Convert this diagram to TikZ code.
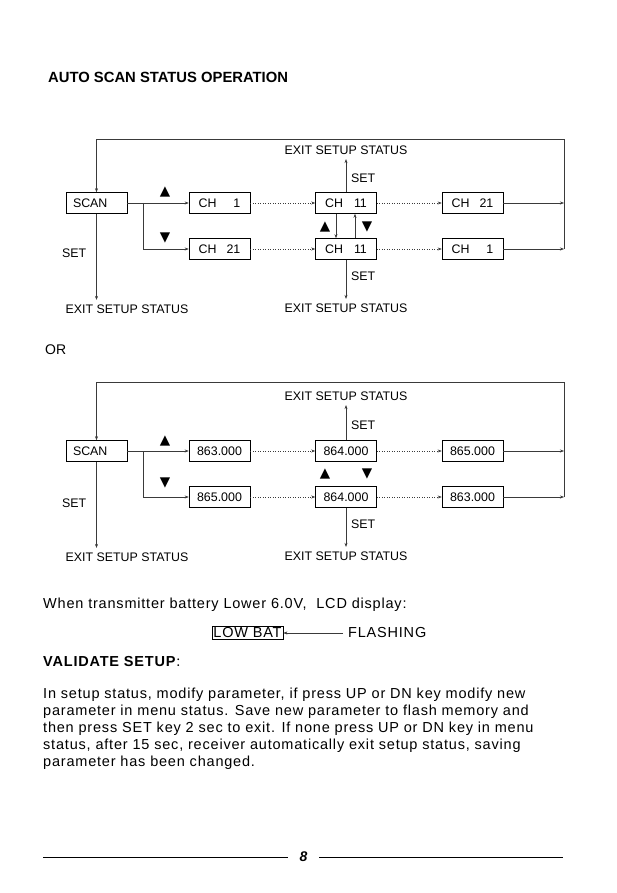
\documentclass[tikz,border=0pt]{standalone}
\usepackage{fontspec}
\setmainfont{Liberation Sans}
\newfontfamily\symfont{DejaVu Sans}
\newfontfamily\cjkfont{Noto Sans CJK SC}
\newfontfamily\spacedfont[LetterSpace=5.5]{Liberation Sans}
\usetikzlibrary{arrows.meta,positioning}
\definecolor{ScanLine}{HTML}{3A3A3A}

\begin{document}
\begin{tikzpicture}[x=1pt,y=-1pt,
    diag/.style={font=\fontsize{12.4}{14}\selectfont,inner sep=1pt},
    exitlbl/.style={diag,inner ysep=4.5pt},
    box/.style={draw,line width=0.6pt,minimum width=61pt,minimum height=21pt,
      inner sep=0pt,font=\fontsize{12.4}{14}\selectfont},
    scanbox/.style={box,text width=47pt,align=left},
    arr/.style={-{Stealth[length=4pt,width=3pt]},line width=0.5pt,draw=ScanLine},
    dotarr/.style={arr,dotted},
    tri/.style={font=\symfont\fontsize{13.5}{13.5}\selectfont,inner sep=0pt},
    body/.style={font=\spacedfont\fontsize{14.5}{17}\selectfont,inner sep=0pt}
  ]
  \useasboundingbox (0,0) rectangle (617,893);
  \node[anchor=west,inner sep=0pt,font=\bfseries\fontsize{14.8}{16}\selectfont] (title) at (48,77) {AUTO SCAN STATUS OPERATION};

  % first chart: channels
  \coordinate (loopA) at (564,139);
  \coordinate (forkA) at (143,203);
  \node[scanbox] (scanA) at (96.5,203) {SCAN};
  \node[box] (upA) at (219.5,203) {CH\hspace{17pt}1};
  \node[box] (dnA) at (219.5,249) {CH\hspace{10pt}21};
  \node[box] (midA) at (346,203) {CH\hspace{11pt}11};
  \node[box] (midAA) at (346,249) {CH\hspace{11pt}11};
  \node[box] (farA) at (472.5,203) {CH\hspace{10pt}21};
  \node[box] (farAA) at (472.5,249) {CH\hspace{17pt}1};
  \node[tri] (upkeyA) at (165,192) {▲};
  \node[tri] (dnkeyA) at (165,238) {▼};
  \node[tri] (upkeyAA) at (325,227) {▲};
  \node[tri] (dnkeyAA) at (367,227) {▼};
  \node[exitlbl] (exitTA) at (346,150) {EXIT SETUP STATUS};
  \node[exitlbl] (exitBA) at (346,308) {EXIT SETUP STATUS};
  \node[exitlbl] (exitLA) at (127,309) {EXIT SETUP STATUS};
  \node[diag,anchor=west] (setTA) at (350,178) {SET};
  \node[diag,anchor=west] (setBA) at (350,276) {SET};
  \node[diag,anchor=west] (setLA) at (61,253) {SET};
  \draw[arr] (scanA) -- (upA);
  \draw[arr] (forkA) |- (dnA);
  \draw[dotarr] (upA) -- (midA);
  \draw[dotarr] (dnA) -- (midAA);
  \draw[dotarr] (midA) -- (farA);
  \draw[dotarr] (midAA) -- (farAA);
  \draw[arr] ([xshift=-10pt]midA.south) -- ([xshift=-10pt]midAA.north);
  \draw[arr] ([xshift=9pt]midAA.north) -- ([xshift=9pt]midA.south);
  \draw[arr] (midA) -- (exitTA);
  \draw[arr] (midAA) -- (exitBA);
  \draw[arr] (scanA) -- (scanA |- exitLA.north);
  \draw[arr] (farA) -- (farA -| loopA);
  \draw[arr] (farAA) -- (farAA -| loopA);
  \draw[arr] (farAA -| loopA) -- (loopA) -| (scanA);

  \node[anchor=west,inner sep=0pt,font=\fontsize{14}{16}\selectfont] (orlbl) at (45,350) {OR};

  % second chart: frequencies
  \coordinate (loopB) at (564,382);
  \coordinate (forkB) at (143,451);
  \node[scanbox] (scanB) at (96.5,451) {SCAN};
  \node[box] (upB) at (219.5,451) {863.000};
  \node[box] (dnB) at (219.5,497) {865.000};
  \node[box] (midB) at (346,451) {864.000};
  \node[box] (midBB) at (346,497) {864.000};
  \node[box] (farB) at (472.5,451) {865.000};
  \node[box] (farBB) at (472.5,497) {863.000};
  \node[tri] (upkeyB) at (165,441) {▲};
  \node[tri] (dnkeyB) at (165,483) {▼};
  \node[tri] (upkeyBB) at (325,474) {▲};
  \node[tri] (dnkeyBB) at (367,474) {▼};
  \node[exitlbl] (exitTB) at (346,396) {EXIT SETUP STATUS};
  \node[exitlbl] (exitBB) at (346,556) {EXIT SETUP STATUS};
  \node[exitlbl] (exitLB) at (127,557) {EXIT SETUP STATUS};
  \node[diag,anchor=west] (setTB) at (350,425) {SET};
  \node[diag,anchor=west] (setBB) at (350,524) {SET};
  \node[diag,anchor=west] (setLB) at (61,503) {SET};
  \draw[arr] (scanB) -- (upB);
  \draw[arr] (forkB) |- (dnB);
  \draw[dotarr] (upB) -- (midB);
  \draw[dotarr] (dnB) -- (midBB);
  \draw[dotarr] (midB) -- (farB);
  \draw[dotarr] (midBB) -- (farBB);
  \draw[arr] (midB) -- (exitTB);
  \draw[arr] (midBB) -- (exitBB);
  \draw[arr] (scanB) -- (scanB |- exitLB.north);
  \draw[arr] (farB) -- (farB -| loopB);
  \draw[arr] (farBB) -- (farBB -| loopB);
  \draw[arr] (farBB -| loopB) -- (loopB) -| (scanB);

  % low battery and validate text
  \node[body,anchor=west] (battery) at (43,605) {When transmitter battery Lower 6.0V,\ \ LCD display:};
  \node[body,draw,line width=0.6pt,inner xsep=1.5pt,inner ysep=1.5pt] (lowbat) at (247.5,633) {LOW BAT};
  \node[body,anchor=west,inner xsep=5pt] (flashing) at (343,633) {FLASHING};
  \draw[arr] (flashing) -- (lowbat);
  \node[body,anchor=west,font=\spacedfont\bfseries\fontsize{14.5}{17}\selectfont] (validate) at (43,662) {VALIDATE SETUP{\mdseries\cjkfont\fontsize{12}{12}\selectfont ：}};
  \node[body,anchor=north west,align=left] (para) at (43,688) {In setup status, modify parameter, if press UP or DN key modify new\\
    parameter in menu status. Save new parameter to flash memory and\\
    then press SET key 2 sec to exit. If none press UP or DN key in menu\\
    status, after 15 sec, receiver automatically exit setup status, saving\\
    parameter has been changed.};

  % footer
  \coordinate (footL) at (43,857);
  \coordinate (footR) at (563,857);
  \node[inner xsep=11.5pt,inner ysep=0pt,font=\bfseries\itshape\fontsize{14}{14}\selectfont] (pagenum) at (303.5,857) {8};
  \draw[line width=0.9pt] (footL) -- (pagenum);
  \draw[line width=0.9pt] (pagenum) -- (footR);
\end{tikzpicture}
\end{document}
